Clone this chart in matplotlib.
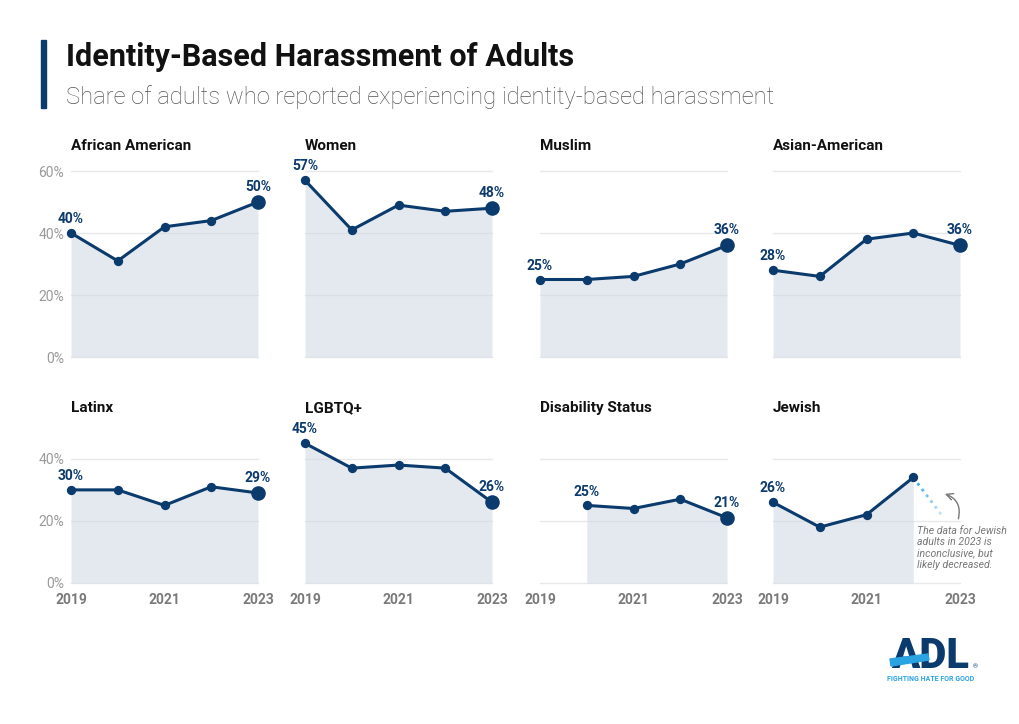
import matplotlib
matplotlib.use("Agg")
import matplotlib.pyplot as plt
import numpy as np
from matplotlib.patches import Rectangle, Polygon

plt.rcParams['font.family'] = ['Roboto', 'DejaVu Sans']

years = [2019, 2020, 2021, 2022, 2023]
groups = ["African American", "Women", "Muslim", "Asian-American",
          "Latinx", "LGBTQ+", "Disability Status", "Jewish"]
african_american = [40, 31, 42, 44, 50]
women = [57, 41, 49, 47, 48]
muslim = [25, 25, 26, 30, 36]
asian_american = [28, 26, 38, 40, 36]
latinx = [30, 30, 25, 31, 29]
lgbtq = [45, 37, 38, 37, 26]
disability = [None, 25, 24, 27, 21]
jewish = [26, 18, 22, 34, None]
jewish_projection_x = [2022, 2022.65]
jewish_projection_y = [34, 21]
series = [african_american, women, muslim, asian_american,
          latinx, lgbtq, disability, jewish]

top_ticks = [0, 20, 40, 60]
bottom_ticks = [0, 20, 40]
x_tick_labels = [2019, 2021, 2023]

title = "Identity-Based Harassment of Adults"
subtitle = "Share of adults who reported experiencing identity-based harassment"
note = "The data for Jewish\nadults in 2023 is\ninconclusive, but\nlikely decreased."

NAVY = "#0b3a6d"
FILL = "#e4e9f0"
GRID = "#d3d7dd"
TICK = "#9a9a9a"
XT = "#7a7a7a"

W, H = 1020, 724
fig = plt.figure(figsize=(W / 100, H / 100), dpi=100)
fig.patch.set_facecolor("white")

col_left = [71, 305, 540, 773]
ax_w = 187

def fx(px):
    return px / W

def fy(py):
    return 1 - py / H

rows = [dict(top=171, bottom=357, ylim=(0, 60), ticks=top_ticks),
        dict(top=434, bottom=583, ylim=(0, 48), ticks=bottom_ticks)]

for i, (name, vals) in enumerate(zip(groups, series)):
    r = i // 4
    c = i % 4
    row = rows[r]
    ax = fig.add_axes([fx(col_left[c]), fy(row["bottom"]), fx(ax_w),
                       (row["bottom"] - row["top"]) / H])
    ax.set_xlim(2019, 2023)
    ax.set_ylim(*row["ylim"])
    for s in ax.spines.values():
        s.set_visible(False)
    ax.set_facecolor("none")
    xs = [y for y, v in zip(years, vals) if v is not None]
    vs = [v for v in vals if v is not None]
    ax.fill_between(xs, 0, vs, color=FILL, lw=0, zorder=1)
    for t in row["ticks"]:
        ax.axhline(t, color=GRID, lw=1.0, alpha=0.55, zorder=2)
    ax.plot(xs, vs, color=NAVY, lw=2.2, zorder=4, solid_capstyle="round")
    small_x = xs if name == "Jewish" else xs[:-1]
    small_v = vs if name == "Jewish" else vs[:-1]
    ax.scatter(small_x, small_v, s=45, color=NAVY, zorder=5, lw=0)
    if name != "Jewish":
        ax.scatter([xs[-1]], [vs[-1]], s=110, color=NAVY, zorder=5, lw=0)
    # value labels
    ax.text(xs[0], vs[0] + 2.2, f"{vs[0]}%", ha="center", va="bottom",
            fontsize=10, fontweight="bold", color=NAVY, zorder=6)
    if name != "Jewish":
        ax.text(xs[-1], vs[-1] + 2.6, f"{vs[-1]}%", ha="center", va="bottom",
                fontsize=10, fontweight="bold", color=NAVY, zorder=6)
    else:
        n = 8
        px = np.linspace(jewish_projection_x[0], jewish_projection_x[1], n)
        py = np.linspace(jewish_projection_y[0], jewish_projection_y[1], n)
        for k in range(n - 1):
            ax.plot(px[k:k + 2], py[k:k + 2], color="#2aa3e3", lw=2.0,
                    ls=(0, (1, 2)), alpha=1 - k / (n - 1) * 0.8, zorder=4)
        ax.text(2022.08, 18.3, note, ha="left", va="top", fontsize=7.6,
                style="italic", color="#777777", linespacing=1.15, zorder=6)
        ax.annotate("", xy=(2022.62, 29.0), xytext=(2022.95, 19.8),
                    arrowprops=dict(arrowstyle="->", color="#777777", lw=1.0,
                                    connectionstyle="arc3,rad=0.5",
                                    mutation_scale=12), zorder=6)
    ax.set_yticks(row["ticks"])
    if c == 0:
        ax.set_yticklabels([f"{t}%" for t in row["ticks"]], color=TICK, fontsize=10)
    else:
        ax.set_yticklabels([])
    ax.tick_params(axis="y", length=0, pad=5)
    if r == 1:
        ax.set_xticks(x_tick_labels)
        ax.set_xticklabels([str(x) for x in x_tick_labels], color=XT,
                           fontsize=10, fontweight="bold")
        ax.tick_params(axis="x", length=0, pad=7)
    else:
        ax.set_xticks([])
    for art in ax.collections + ax.lines:
        art.set_clip_on(False)
    # panel title
    ty = 146 if r == 0 else 408
    fig.text(fx(col_left[c]), fy(ty), name, ha="left", va="center",
             fontsize=11, fontweight="bold", color="#111111")

# title block
fig.patches.append(Rectangle((fx(41), fy(108)), fx(5), (108 - 40) / H,
                             transform=fig.transFigure, color=NAVY))
fig.text(fx(66), fy(57), title, ha="left", va="center", fontsize=22,
         fontweight="bold", color="#111111")
fig.text(fx(66), fy(97), subtitle, ha="left", va="center", fontsize=17.1,
         fontweight="light", color="#555555")

# ADL logo
fig.text(fx(930), fy(656), "ADL", ha="center", va="center", fontsize=30,
         fontweight="black", color=NAVY)
fig.patches.append(Polygon([(fx(890), fy(659)), (fx(928), fy(654)),
                            (fx(929), fy(660)), (fx(891), fy(666))],
                           closed=True, transform=fig.transFigure,
                           color="#2aa3e3", zorder=5))
fig.text(fx(975), fy(667), "®", ha="center", va="center", fontsize=4.5,
         color=NAVY)
fig.text(fx(931), fy(679), "FIGHTING HATE FOR GOOD", ha="center",
         va="center", fontsize=5.0, fontweight="bold", color="#2aa3e3")

fig.savefig("out.png", dpi=100, facecolor="white")
